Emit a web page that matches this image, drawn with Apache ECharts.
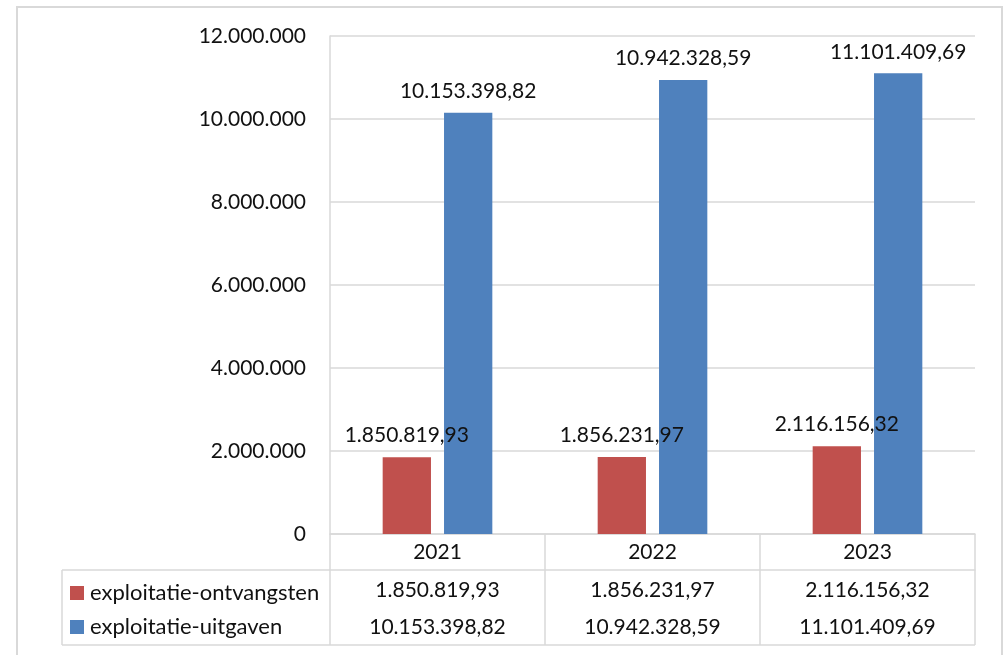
<!DOCTYPE html>
<html>
<head>
<meta charset="utf-8">
<script src="https://cdn.jsdelivr.net/npm/echarts@6/dist/echarts.min.js"></script>
<style>
html,body{margin:0;padding:0;background:#fff;}
#main{width:1005px;height:655px;}
</style>
</head>
<body>
<div id="main"></div>
<script>
const categories = ['2021', '2022', '2023'];
const seriesNames = ['exploitatie-ontvangsten', 'exploitatie-uitgaven'];
const ontvangsten = [1850819.93, 1856231.97, 2116156.32];
const uitgaven = [10153398.82, 10942328.59, 11101409.69];
const yTicks = { min: 0, max: 12000000, interval: 2000000 };

function fmtInt(v) {
  return String(Math.round(v)).replace(/\B(?=(\d{3})+(?!\d))/g, '.');
}
function fmtDec(v) {
  const parts = v.toFixed(2).split('.');
  return parts[0].replace(/\B(?=(\d{3})+(?!\d))/g, '.') + ',' + parts[1];
}

const FONT = 'Lato';
const FS = 21;
const TXT = '#111111';
const LINE = '#d9d9d9';
const RED = '#C0504D';
const BLUE = '#4F81BD';

const G = { left: 330, right: 975, top: 36, bottom: 534 };
const ROW1 = 570, TBOT = 645, TLEFT = 62;

const chart = echarts.init(document.getElementById('main'), null, { renderer: 'canvas' });

const tableAxis = (off, data, tickLen, margin, showLine) => ({
  type: 'category',
  data: data,
  position: 'bottom',
  offset: off,
  gridIndex: 0,
  axisLine: { show: showLine, lineStyle: { color: LINE, width: 1.5 } },
  axisTick: { show: tickLen > 0, length: tickLen, lineStyle: { color: LINE, width: 1.5 } },
  axisLabel: { color: TXT, fontFamily: FONT, fontSize: FS, margin: margin, verticalAlign: 'middle' },
  splitLine: { show: false }
});

const option = {
  backgroundColor: '#fff',
  animation: false,
  textStyle: { fontFamily: FONT },
  grid: { left: G.left, right: 1005 - G.right, top: G.top, bottom: 655 - G.bottom, containLabel: false },
  legend: {
    orient: 'vertical',
    left: 70, top: 582,
    padding: 0,
    itemWidth: 14, itemHeight: 14, itemGap: 12,
    icon: 'rect',
    textStyle: { color: TXT, fontFamily: FONT, fontSize: 22, lineHeight: 16, padding: [0, 0, 0, 1] },
    data: seriesNames
  },
  xAxis: [
    tableAxis(0, categories, 36, 18, true),
    tableAxis(ROW1 - G.bottom, ontvangsten.map(fmtDec), TBOT - ROW1, 20, true),
    tableAxis(ROW1 - G.bottom, uitgaven.map(fmtDec), 0, 57, false)
  ],
  yAxis: {
    type: 'value',
    min: yTicks.min, max: yTicks.max, interval: yTicks.interval,
    axisLine: { show: true, lineStyle: { color: LINE, width: 1.5 } },
    axisTick: { show: false },
    splitLine: { lineStyle: { color: LINE, width: 1.5 } },
    axisLabel: { color: TXT, fontFamily: FONT, fontSize: FS, margin: 24, formatter: fmtInt }
  },
  graphic: [
    { type: 'rect', silent: true, z: -1, shape: { x: 17, y: 7, width: 985, height: 660 }, style: { fill: 'none', stroke: LINE, lineWidth: 2 } },
    { type: 'line', silent: true, shape: { x1: TLEFT, y1: ROW1, x2: G.left, y2: ROW1 }, style: { stroke: LINE, lineWidth: 1.5 } },
    { type: 'line', silent: true, shape: { x1: TLEFT, y1: ROW1, x2: TLEFT, y2: TBOT }, style: { stroke: LINE, lineWidth: 1.5 } },
    { type: 'line', silent: true, shape: { x1: TLEFT, y1: TBOT, x2: G.right, y2: TBOT }, style: { stroke: LINE, lineWidth: 1.5 } }
  ],
  series: [
    {
      name: seriesNames[0], type: 'bar', data: ontvangsten,
      itemStyle: { color: RED }, barGap: '27%', barCategoryGap: '49%',
      label: { show: true, position: 'top', distance: 11, color: TXT, fontFamily: FONT, fontSize: FS, formatter: p => fmtDec(p.value) }
    },
    {
      name: seriesNames[1], type: 'bar', data: uitgaven,
      itemStyle: { color: BLUE }, barGap: '27%', barCategoryGap: '49%',
      label: { show: true, position: 'top', distance: 11, color: TXT, fontFamily: FONT, fontSize: FS, formatter: p => fmtDec(p.value) }
    }
  ]
};
chart.setOption(option);
</script>
</body>
</html>
